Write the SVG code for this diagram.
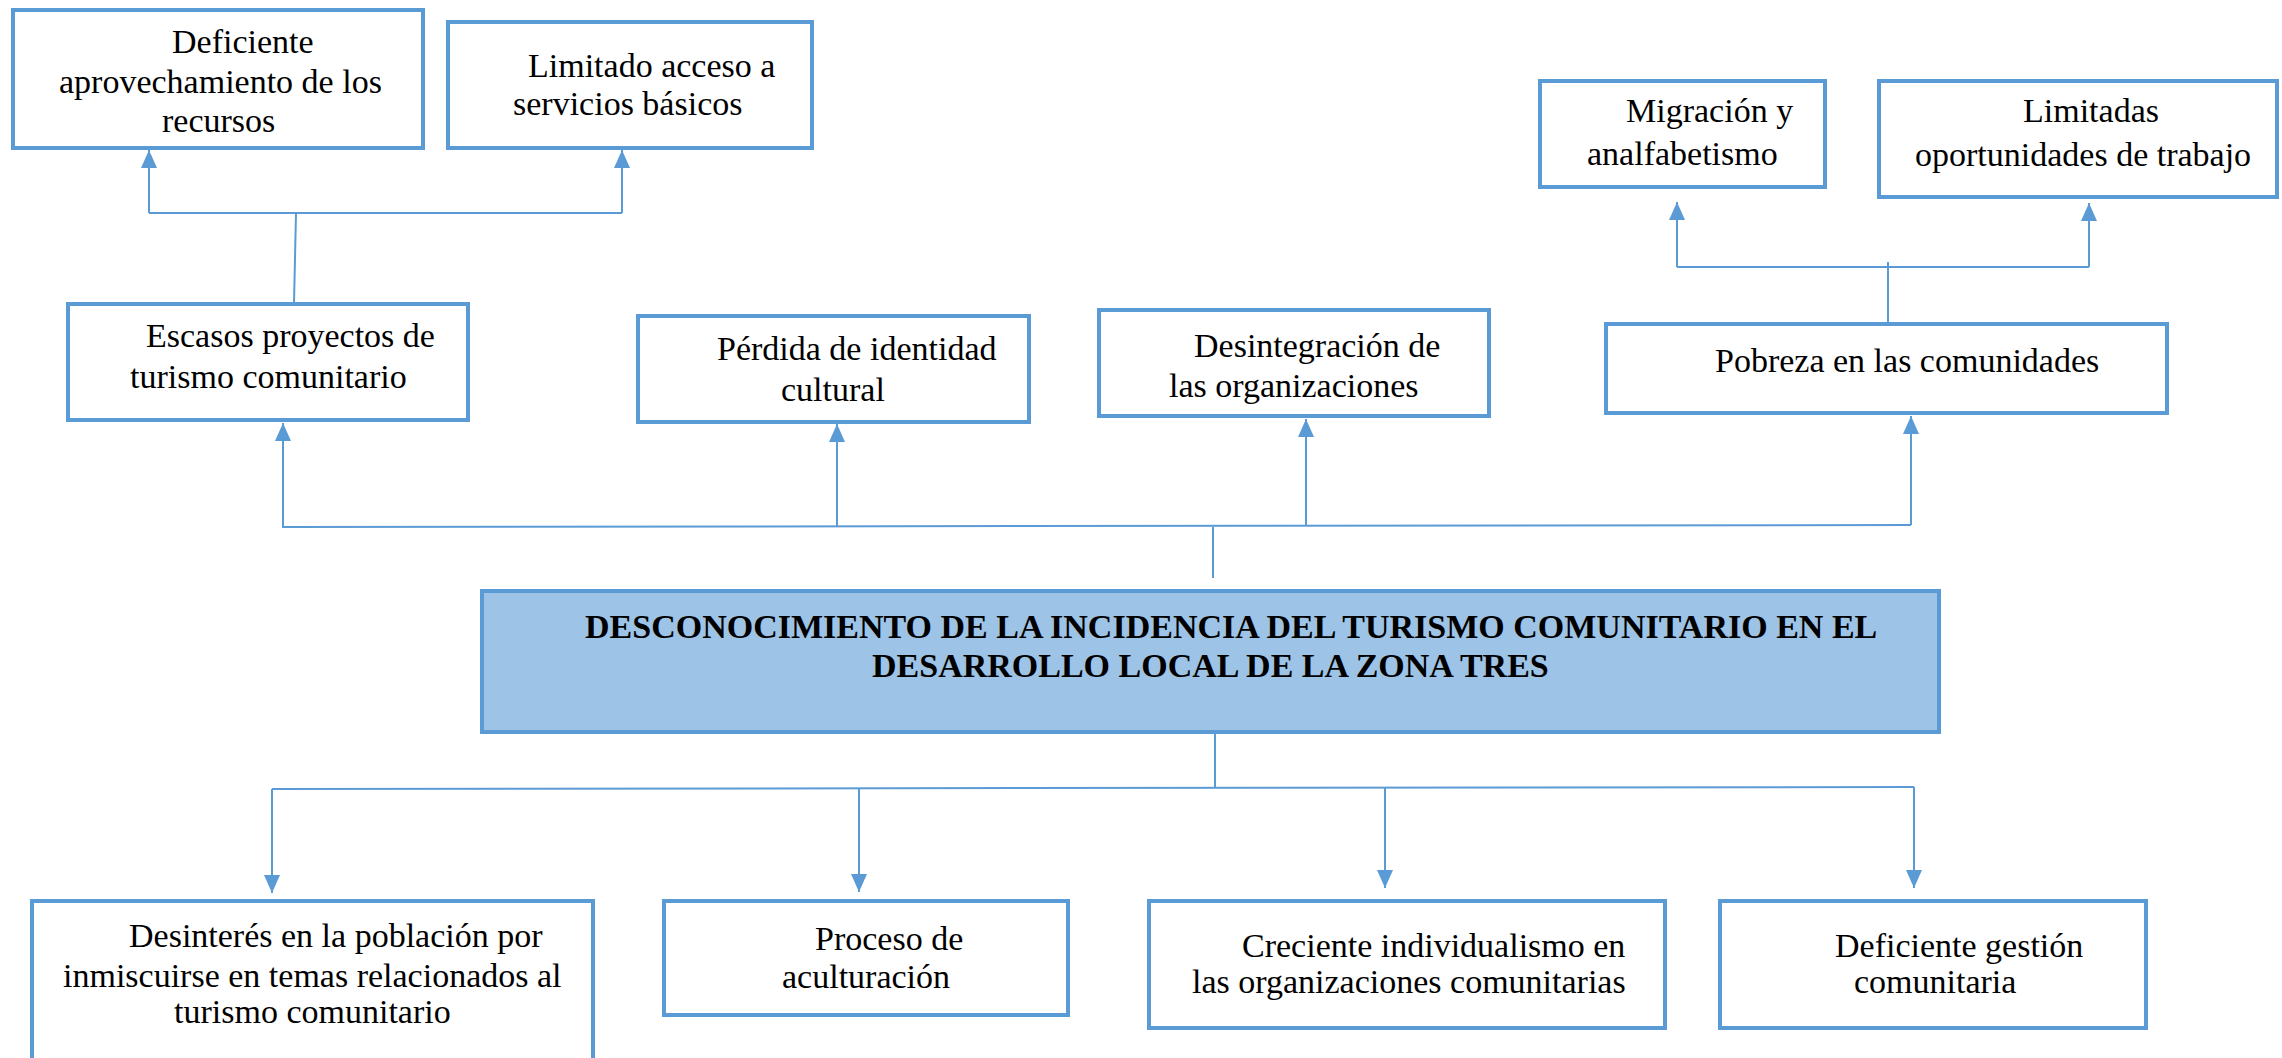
<svg xmlns="http://www.w3.org/2000/svg" width="2282" height="1058" viewBox="0 0 2282 1058">
<style>
.box{fill:#ffffff;stroke:#5B9BD5;stroke-width:4}
.main{fill:#9DC3E6;stroke:#5B9BD5;stroke-width:4}
.t{font-family:"Liberation Serif","Times New Roman",serif;font-size:34px;fill:#000}
.tb{font-family:"Liberation Serif","Times New Roman",serif;font-size:34px;font-weight:bold;fill:#000}
.c{fill:none;stroke:#5B9BD5;stroke-width:2}
.a{fill:none;stroke:#5B9BD5;stroke-width:2;marker-end:url(#arr)}
</style>
<defs>
<marker id="arr" viewBox="0 0 18 16" refX="18" refY="8" markerWidth="18" markerHeight="16" markerUnits="userSpaceOnUse" orient="auto">
<path d="M0,0 L18,8 L0,16 z" fill="#5B9BD5"/>
</marker>
</defs>
<rect width="2282" height="1058" fill="#ffffff"/>
<g id="connectors">
<line class="c" x1="294" y1="304" x2="296" y2="213"/>
<line class="c" x1="149" y1="213" x2="622" y2="213"/>
<line class="a" x1="149" y1="213" x2="149" y2="150"/>
<line class="a" x1="622" y1="213" x2="622" y2="150"/>
<line class="c" x1="1888" y1="324" x2="1888" y2="262"/>
<line class="c" x1="1677" y1="267" x2="2089" y2="267"/>
<line class="a" x1="1677" y1="267" x2="1677" y2="202"/>
<line class="a" x1="2089" y1="267" x2="2089" y2="203"/>
<line class="c" x1="282" y1="527" x2="1911" y2="525"/>
<line class="a" x1="283" y1="527" x2="283" y2="423"/>
<line class="a" x1="837" y1="527" x2="837" y2="424"/>
<line class="a" x1="1306" y1="526" x2="1306" y2="419"/>
<line class="a" x1="1911" y1="525" x2="1911" y2="416"/>
<line class="c" x1="1213" y1="527" x2="1213" y2="578"/>
<line class="c" x1="1215" y1="733" x2="1215" y2="787"/>
<line class="c" x1="272" y1="789" x2="1914" y2="787"/>
<line class="a" x1="272" y1="789" x2="272" y2="893"/>
<line class="a" x1="859" y1="789" x2="859" y2="892"/>
<line class="a" x1="1385" y1="788" x2="1385" y2="888"/>
<line class="a" x1="1914" y1="787" x2="1914" y2="888"/>
</g>
<g id="n1">
<rect class="box" x="13" y="10" width="410" height="138"/>
<text class="t" x="172" y="53">Deficiente</text>
<text class="t" x="59" y="93">aprovechamiento de los</text>
<text class="t" x="162" y="132">recursos</text>
</g>
<g id="n2">
<rect class="box" x="448" y="22" width="364" height="126"/>
<text class="t" x="528" y="77">Limitado acceso a</text>
<text class="t" x="513" y="115">servicios básicos</text>
</g>
<g id="n3">
<rect class="box" x="1540" y="81" width="285" height="106"/>
<text class="t" x="1626" y="122">Migración y</text>
<text class="t" x="1587" y="165">analfabetismo</text>
</g>
<g id="n4">
<rect class="box" x="1879" y="81" width="398" height="116"/>
<text class="t" x="2023" y="122">Limitadas</text>
<text class="t" x="1915" y="166">oportunidades de trabajo</text>
</g>
<g id="n5">
<rect class="box" x="68" y="304" width="400" height="116"/>
<text class="t" x="146" y="347">Escasos proyectos de</text>
<text class="t" x="130" y="388">turismo comunitario</text>
</g>
<g id="n6">
<rect class="box" x="638" y="316" width="391" height="106"/>
<text class="t" x="717" y="360">Pérdida de identidad</text>
<text class="t" x="781" y="401">cultural</text>
</g>
<g id="n7">
<rect class="box" x="1099" y="310" width="390" height="106"/>
<text class="t" x="1194" y="357">Desintegración de</text>
<text class="t" x="1169" y="397">las organizaciones</text>
</g>
<g id="n8">
<rect class="box" x="1606" y="324" width="561" height="89"/>
<text class="t" x="1715" y="372">Pobreza en las comunidades</text>
</g>
<g id="n9">
<rect class="main" x="482" y="591" width="1457" height="141"/>
<text class="tb" x="585" y="638">DESCONOCIMIENTO DE LA INCIDENCIA DEL TURISMO COMUNITARIO EN EL</text>
<text class="tb" x="872" y="677">DESARROLLO LOCAL DE LA ZONA TRES</text>
</g>
<g id="n10">
<rect class="box" x="32" y="901" width="561" height="170"/>
<text class="t" x="129" y="947">Desinterés en la población por</text>
<text class="t" x="63" y="987">inmiscuirse en temas relacionados al</text>
<text class="t" x="174" y="1023">turismo comunitario</text>
</g>
<g id="n11">
<rect class="box" x="664" y="901" width="404" height="114"/>
<text class="t" x="815" y="950">Proceso de</text>
<text class="t" x="782" y="988">aculturación</text>
</g>
<g id="n12">
<rect class="box" x="1149" y="901" width="516" height="127"/>
<text class="t" x="1242" y="957">Creciente individualismo en</text>
<text class="t" x="1192" y="993">las organizaciones comunitarias</text>
</g>
<g id="n13">
<rect class="box" x="1720" y="901" width="426" height="127"/>
<text class="t" x="1835" y="957">Deficiente gestión</text>
<text class="t" x="1854" y="993">comunitaria</text>
</g>
</svg>
